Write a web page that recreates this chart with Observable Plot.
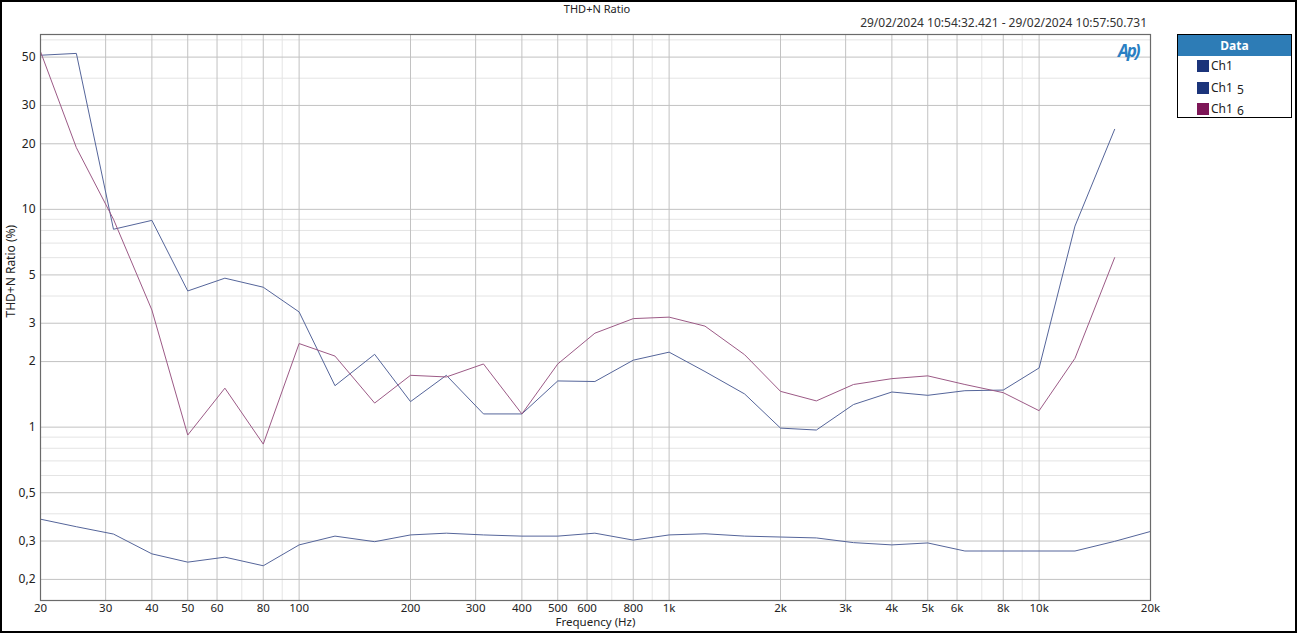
<!DOCTYPE html>
<html>
<head>
<meta charset="utf-8">
<script src="https://cdn.jsdelivr.net/npm/d3@7"></script>
<script src="https://cdn.jsdelivr.net/npm/@observablehq/plot@0.6"></script>
<style>
  html, body { margin: 0; padding: 0; background: #fff; }
  #wrap { position: relative; width: 1297px; height: 633px; box-sizing: border-box; border: 2px solid #000; overflow: hidden; font-family: "Segoe UI", "Noto Sans", sans-serif; color: #222; }
  #chart { position: absolute; left: -2px; top: -2px; }
  .abs { position: absolute; white-space: nowrap; }
  #title { left: 0; width: 1190px; text-align: center; top: -1px; font-size: 11px; }
  #date { right: 148px; top: 12px; font-size: 12px; color: #333; }
  #logo { left: 1116px; top: 37px; font-size: 17px; font-weight: bold; font-style: italic; color: #2a7fc3; letter-spacing: -2px; }
  #legend { left: 1175px; top: 32px; width: 115px; height: 84px; border: 1px solid #000; box-sizing: border-box; background: #fff; font-size: 12px; }
  #legend .hdr { background: #2d7cb6; color: #fff; font-weight: bold; text-align: center; height: 21px; line-height: 21px; }
  #legend .row { position: relative; height: 21.5px; line-height: 20px; padding-left: 33px; }
  #legend .sw { position: absolute; left: 19px; top: 4px; width: 12px; height: 12px; }
  #legend .sub { display: inline-block; position: relative; top: 2px; margin-left: 4px; }
</style>
</head>
<body>
<div id="wrap">
  <div id="chart"></div>
  <div class="abs" id="title">THD+N Ratio</div>
  <div class="abs" id="date">29/02/2024 10:54:32.421 - 29/02/2024 10:57:50.731</div>
  <div class="abs" id="logo">Ap)</div>
  <div class="abs" id="legend"></div>
</div>
<script>
// ---- data ----
const freqs = [20,25,31.5,40,50,63,80,100,125,160,200,250,315,400,500,630,800,1000,1250,1600,2000,2500,3150,4000,5000,6300,8000,10000,12500,16000,20000];
const ch1   = [0.378,0.349,0.323,0.262,0.240,0.253,0.231,0.288,0.316,0.298,0.320,0.326,0.320,0.316,0.316,0.326,0.303,0.320,0.324,0.316,0.313,0.310,0.295,0.288,0.294,0.270,0.270,0.270,0.270,0.299,0.332];
const ch1_5 = [51,52,8.1,8.9,4.22,4.83,4.39,3.38,1.55,2.16,1.31,1.73,1.15,1.15,1.63,1.62,2.03,2.21,1.80,1.42,0.99,0.97,1.27,1.45,1.40,1.47,1.48,1.87,8.38,23.3];
const ch1_6 = [53,19.2,9.0,3.45,0.92,1.51,0.836,2.42,2.12,1.29,1.73,1.70,1.95,1.15,1.95,2.70,3.15,3.20,2.91,2.15,1.46,1.32,1.57,1.67,1.72,1.57,1.44,1.19,2.07,6.0];

const seriesNames = ["Ch1", "Ch1 5", "Ch1 6"];
const legendColors = ["#1b347a", "#1b347a", "#7d1657"];
const lineColors = ["#55659a", "#55659a", "#9c5a86"];

const xTicks = [20,30,40,50,60,80,100,200,300,400,500,600,800,1000,2000,3000,4000,5000,6000,8000,10000,20000];
const xMinorGrid = [70,90,700,900,7000,9000];
const yTicks = [0.2,0.3,0.5,1,2,3,5,10,20,30,50];
const yMinorGrid = [0.4,0.6,0.7,0.8,0.9,4,6,7,8,9,40,60];

// ---- build table ----
const rows = [];
[ch1, ch1_5, ch1_6].forEach((vals, s) => {
  vals.forEach((v, i) => rows.push({f: freqs[i], v, s: seriesNames[s]}));
});

const fmtX = d => d >= 1000 ? (d / 1000) + "k" : String(d);
const fmtY = d => String(d).replace(".", ",");

const chart = Plot.plot({
  width: 1162,
  height: 635,
  marginLeft: 40,
  marginTop: 34,
  marginRight: 12,
  marginBottom: 35,
  style: {fontFamily: "'Segoe UI', 'Noto Sans', sans-serif", fontSize: "12px", color: "#222", background: "transparent"},
  x: {type: "log", domain: [20, 20000], axis: null},
  y: {type: "log", domain: [0.16, 63.5], axis: null},
  color: {domain: seriesNames, range: lineColors},
  marks: [
    Plot.ruleX(xMinorGrid, {stroke: "#e4e4e4", strokeWidth: 1}),
    Plot.ruleY(yMinorGrid, {stroke: "#e4e4e4", strokeWidth: 1}),
    Plot.ruleX(xTicks, {stroke: "#c2c2c2", strokeWidth: 1}),
    Plot.ruleY(yTicks, {stroke: "#c2c2c2", strokeWidth: 1}),
    Plot.text(xTicks, {x: d => d, frameAnchor: "bottom", dy: 11, text: fmtX, fill: "#222", fontSize: 11.5}),
    Plot.text(yTicks, {y: d => d, frameAnchor: "left", dx: -5, textAnchor: "end", text: fmtY, fill: "#222", fontSize: 12}),
    Plot.text(["Frequency (Hz)"], {frameAnchor: "bottom", dy: 25.5, text: d => d, fill: "#222", fontSize: 11.5}),
    Plot.text(["THD+N Ratio (%)"], {frameAnchor: "left", dx: -29, rotate: -90, text: d => d, fill: "#222", fontSize: 12}),
    Plot.line(rows, {x: "f", y: "v", z: "s", stroke: "s", strokeWidth: 1}),
    Plot.frame({stroke: "#6a6a6a", strokeWidth: 1.2})
  ]
});
document.getElementById("chart").appendChild(chart);

// ---- legend ----
const lg = document.getElementById("legend");
lg.innerHTML = '<div class="hdr">Data</div>' + seriesNames.map((n, i) => {
  const parts = n.split(" ");
  const label = parts.length > 1 ? parts[0] + '<span class="sub">' + parts[1] + "</span>" : n;
  return '<div class="row"><span class="sw" style="background:' + legendColors[i] + '"></span>' + label + '</div>';
}).join("");
</script>
</body>
</html>
